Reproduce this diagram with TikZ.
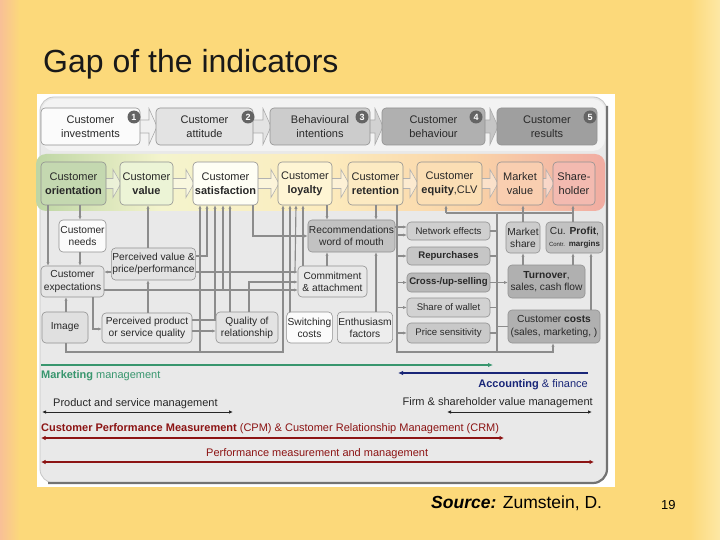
\documentclass[tikz,border=0pt]{standalone}
\usepackage{fontspec}
\setmainfont{Liberation Sans}
\usetikzlibrary{arrows.meta}
\definecolor{slidebg}{RGB}{252,217,122}
\definecolor{slideleft}{RGB}{248,192,150}
\definecolor{slideright}{RGB}{253,232,165}
\definecolor{panelbg}{RGB}{233,233,233}
\definecolor{toplight}{RGB}{243,243,243}
\definecolor{boxedge}{RGB}{145,145,145}
\definecolor{txt}{RGB}{40,40,40}
\definecolor{conncol}{RGB}{140,140,140}
\definecolor{badgecol}{RGB}{100,100,100}
\definecolor{bandg}{RGB}{190,214,165}
\definecolor{bandy}{RGB}{244,244,205}
\definecolor{bandy2}{RGB}{252,236,190}
\definecolor{bando}{RGB}{250,212,168}
\definecolor{bandr}{RGB}{241,172,162}
\definecolor{mkgreen}{RGB}{56,150,110}
\definecolor{accnavy}{RGB}{25,38,120}
\definecolor{cpmred}{RGB}{140,20,20}
\pgfdeclarehorizontalshading{bandshade}{100bp}{color(0bp)=(bandg); color(25bp)=(bandg); color(36bp)=(bandy); color(50bp)=(bandy2); color(63bp)=(bando); color(75bp)=(bandr); color(100bp)=(bandr)}
\newcommand\mychev[6]{%
  \path[#6] (#1,#3-#5) -- (#2-8,#3-#5) -- (#2-8,#3-#4) -- (#2,#3) -- (#2-8,#3+#4) -- (#2-8,#3+#5) -- (#1,#3+#5) -- cycle;}
\tikzset{
  box/.style={draw=boxedge, line width=0.6pt, rounded corners=4pt, align=center, inner sep=1pt, text=txt},
  topbox/.style={box, minimum height=37pt, font=\fontsize{11}{13.5}\selectfont},
  midbox/.style={box, minimum height=43pt, font=\fontsize{11}{14}\selectfont},
  lowbox/.style={box, font=\fontsize{10.2}{12.2}\selectfont},
  rbox/.style={box, font=\fontsize{9.6}{11}\selectfont, minimum width=83pt},
  conn/.style={draw=conncol, line width=1.15pt},
  arr/.style={conn, -{Latex[length=3.5pt,width=3.2pt]}},
  badge/.style={circle, fill=badgecol, text=white, font=\bfseries\fontsize{9}{9}\selectfont, inner sep=0pt, minimum size=13pt},
  chevtop/.style={draw=gray!65, line width=0.6pt},
  chevmid/.style={draw=gray!60, line width=0.6pt, fill=white, fill opacity=0.4},
  lbl/.style={font=\fontsize{11}{13}\selectfont, inner sep=0pt},
}
\begin{document}
\begin{tikzpicture}[x=1pt,y=-1pt]
\useasboundingbox (0,0) rectangle (720,540);
% slide background
\fill[slidebg] (0,0) rectangle (720,540);
\shade[left color=slideleft, right color=slidebg] (0,0) rectangle (20,540);
\shade[left color=slidebg, right color=slideright] (690,0) rectangle (720,540);
\node[anchor=base west, font=\fontsize{32}{38}\selectfont, text=black!90, inner sep=0pt] (title) at (43,73) {Gap of the indicators};
% diagram frame
\fill[white] (37,94) rectangle (615,487);
\draw[fill=panelbg, draw=gray!45, line width=0.8pt, rounded corners=14pt] (40,97) rectangle (607,483);
\draw[draw=gray!90!black, line width=2.2pt, rounded corners=14pt] (607,106) -- (607,483) -- (48,483);
\fill[toplight, rounded corners=12pt] (42,99) rectangle (605,151);
\shade[shading=bandshade, rounded corners=10pt] (36,154) rectangle (605,211);
% chevrons top row
\mychev{138}{157}{126.5}{18}{6.5}{chevtop, fill=gray!12}
\mychev{251}{271}{126.5}{18}{6.5}{chevtop, fill=gray!22}
\mychev{368}{383}{126.5}{18}{6.5}{chevtop, fill=gray!35}
\mychev{483}{498}{126.5}{18}{6.5}{chevtop, fill=gray!45}
% chevrons second row
\mychev{104}{121}{183.5}{14}{5}{chevmid}
\mychev{171}{194}{183.5}{14}{5}{chevmid}
\mychev{256}{279}{183.5}{14}{5}{chevmid}
\mychev{330}{349}{183.5}{14}{5}{chevmid}
\mychev{401}{418}{183.5}{14}{5}{chevmid}
\mychev{480}{498}{183.5}{14}{5}{chevmid}
\mychev{541}{554}{183.5}{14}{5}{chevmid}
% top row
\node[topbox, minimum width=99pt, fill=white!97!gray] (inv) at (90.5,126.5) {Customer\\investments};
\node[topbox, minimum width=97pt, fill=gray!22] (att) at (204.5,126.5) {Customer\\attitude};
\node[topbox, minimum width=100pt, fill=gray!40] (beh) at (320,126.5) {Behavioural\\intentions};
\node[topbox, minimum width=103pt, fill=gray!62] (bhv) at (433.5,126.5) {Customer\\behaviour};
\node[topbox, minimum width=100pt, fill=gray!75] (res) at (547,126.5) {Customer\\results};
\node[badge] (b1) at (134,117) {1};
\node[badge] (b2) at (248,117) {2};
\node[badge] (b3) at (362,117) {3};
\node[badge] (b4) at (476,117) {4};
\node[badge] (b5) at (590,117) {5};
% second row
\node[midbox, minimum width=65pt, fill={rgb,255:red,196;green,216;blue,176}] (ori) at (73.5,183.5) {Customer\\\textbf{orientation}};
\node[midbox, minimum width=53pt, fill={rgb,255:red,236;green,244;blue,214}] (val) at (146.5,183.5) {Customer\\\textbf{value}};
\node[midbox, minimum width=65pt, fill={rgb,255:red,254;green,254;blue,244}] (sat) at (225.5,183.5) {Customer\\\textbf{satisfaction}};
\node[midbox, minimum width=54pt, fill={rgb,255:red,254;green,245;blue,212}] (loy) at (305,183.5) {Customer\\\textbf{loyalty}};
\node[midbox, minimum width=55pt, fill={rgb,255:red,252;green,234;blue,194}] (ret) at (375.5,183.5) {Customer\\\textbf{retention}};
\node[midbox, minimum width=65pt, fill={rgb,255:red,251;green,222;blue,180}] (equ) at (449.5,183.5) {Customer\\\textbf{equity},CLV};
\node[midbox, minimum width=46pt, fill={rgb,255:red,249;green,206;blue,176}] (mkv) at (520,183.5) {Market\\value};
\node[midbox, minimum width=42pt, fill={rgb,255:red,243;green,186;blue,176}] (shh) at (574,183.5) {Share-\\holder};
% lower boxes
\node[lowbox, minimum width=47pt, minimum height=32pt, fill=white!97!gray] (needs) at (82.5,236) {Customer\\needs};
\node[lowbox, minimum width=83pt, minimum height=32pt, fill=gray!22] (pv) at (153.5,264) {Perceived value \&\\price/performance};
\node[lowbox, minimum width=63pt, minimum height=31pt, fill=gray!20] (exp) at (72.5,281.5) {Customer\\expectations};
\node[lowbox, minimum width=46pt, minimum height=31pt, fill=gray!24] (img) at (65,327.5) {Image};
\node[lowbox, minimum width=90pt, minimum height=30pt, fill=gray!18] (pq) at (147,328) {Perceived product\\or service quality};
\node[lowbox, minimum width=62pt, minimum height=31pt, fill=gray!22] (qr) at (247,327.5) {Quality of\\relationship};
\node[lowbox, minimum width=45pt, minimum height=31pt, fill=white!97!gray] (sw) at (309.5,327.5) {Switching\\costs};
\node[lowbox, minimum width=54pt, minimum height=31pt, fill=gray!14] (en) at (365,327.5) {Enthusiasm\\factors};
\node[lowbox, minimum width=85pt, minimum height=32pt, fill=gray!48] (rec) at (351.5,236) {Recommendations\\word of mouth};
\node[lowbox, minimum width=69pt, minimum height=31pt, fill=gray!18] (com) at (332.5,281.5) {Commitment\\\& attachment};
\node[rbox, minimum height=18pt, fill=gray!38] (net) at (448.5,231) {Network effects};
\node[rbox, minimum height=18pt, fill=gray!45] (rep) at (448.5,256) {\textbf{Repurchases}};
\node[rbox, minimum height=19pt, fill=gray!55] (cro) at (448.5,282.5) {\textbf{Cross-/up-selling}};
\node[rbox, minimum height=19pt, fill=gray!35] (sha) at (448.5,307.5) {Share of wallet};
\node[rbox, minimum height=20pt, fill=gray!42] (pri) at (448.5,333) {Price sensitivity};
\node[lowbox, minimum width=34pt, minimum height=31pt, fill=gray!40] (msh) at (523,237.5) {Market\\share};
\node[lowbox, minimum width=57pt, minimum height=31pt, fill=gray!48] (cup) at (574.5,237.5) {Cu. \textbf{Profit},\\{\fontsize{6}{8}\selectfont Contr.} {\fontsize{8}{9}\selectfont\textbf{margins}}};
\node[lowbox, minimum width=77pt, minimum height=33pt, fill=gray!62] (tur) at (546.5,281.5) {\textbf{Turnover},\\sales, cash flow};
\node[lowbox, minimum width=92pt, minimum height=33pt, fill=gray!62] (cco) at (554,326.5) {Customer \textbf{costs}\\(sales, marketing, )};
% connectors left part
\draw[arr] (48,0 |- ori.south) -- (48,0 |- exp.north);
\draw[arr] (80,0 |- ori.south) -- (80,0 |- needs.north);
\draw[arr] (80,0 |- needs.south) -- (80,0 |- exp.north);
\draw[arr] (pv.west |- 0,272) -- (exp.east |- 0,272);
\draw[arr] (148,0 |- pv.north) -- (148,0 |- val.south);
\draw[arr] (148,0 |- pq.north) -- (148,0 |- pv.south);
\draw[arr] (66,0 |- img.north) -- (66,0 |- exp.south);
\draw[arr] (93,0 |- exp.south) -- (93,329) -- (pq.west |- 0,329);
\draw[arr] (exp.east |- 0,290) -- (com.west |- 0,290);
\coordinate (j1) at (223,290);
\draw[arr] (j1) -- (223,0 |- sat.south);
\draw[arr] (pv.east |- 0,272) -- (com.west |- 0,272);
\coordinate (j2) at (295,272);
\draw[arr] (j2) -- (296,0 |- loy.south);
\draw[arr] (pv.east |- 0,256) -- (207,256) -- (207,0 |- sat.south);
\draw[arr] (pq.east |- 0,320) -- (215,320) -- (215,0 |- sat.south);
\draw[arr] (pq.east |- 0,331) -- (qr.west |- 0,331);
\draw[arr] (230,0 |- qr.north) -- (230,0 |- sat.south);
\draw[arr] (249,0 |- qr.north) -- (249,282) -- (com.west |- 0,282);
\draw[arr] (66,0 |- img.south) -- (66,352) -- (283,352) -- (283,0 |- loy.south);
\coordinate (j3) at (200,352);
\draw[arr] (j3) -- (200,0 |- sat.south);
\draw[arr] (290,0 |- sw.north) -- (290,0 |- loy.south);
\draw[arr] (303,0 |- com.north) -- (303,0 |- loy.south);
\draw[arr] (253,0 |- sat.south) -- (253,236) -- (rec.west |- 0,236);
\draw[arr] (327,0 |- loy.south) -- (327,0 |- rec.north);
\draw[arr] (376,0 |- ret.south) -- (376,0 |- rec.north);
\draw[arr] (327,0 |- com.north) -- (327,0 |- rec.south);
\draw[arr] (376,0 |- en.north) -- (376,0 |- rec.south);
\draw[arr] (rec.east |- 0,227) -- (net.west |- 0,227);
% retention bus
\draw[arr] (397,0 |- ret.south) -- (397,352) -- (553,352) -- (553,0 |- cco.south);
\draw[arr] (397,0 |- 0,235) -- (net.west |- 0,235);
\draw[arr] (397,0 |- rep.west) -- (rep.west);
\draw[arr] (397,0 |- cro.west) -- (cro.west);
\draw[arr] (397,0 |- sha.west) -- (sha.west);
\draw[arr] (397,0 |- pri.west) -- (pri.west);
% right bus
\draw[conn] (497,352) -- (497,213);
\draw[conn] (446,213) -- (573,213);
\draw[conn] (net.east) -- (497,0 |- net.east);
\draw[conn] (rep.east) -- (497,0 |- rep.east);
\draw[conn] (sha.east) -- (497,0 |- sha.east);
\draw[conn] (pri.east) -- (497,0 |- pri.east);
\draw[conn] (cco.west) -- (497,0 |- cco.west);
\draw[arr] (cro.east) -- (tur.west |- cro.east);
\coordinate (jeq) at (446,213);
\draw[arr] (jeq) -- (446,0 |- equ.south);
\draw[arr] (523,0 |- msh.north) -- (523,0 |- mkv.south);
\draw[arr] (573,0 |- cup.north) -- (573,0 |- shh.south);
\draw[arr] (523,0 |- tur.north) -- (523,0 |- msh.south);
\draw[arr] (573,0 |- tur.north) -- (573,0 |- cup.south);
\draw[arr] (591,0 |- cco.north) -- (591,0 |- cup.south);
% management arrows
\coordinate (mkL) at (41,365); \coordinate (mkR) at (493,365);
\draw[draw=mkgreen, line width=1.6pt, -{Latex[length=5pt,width=4.5pt]}] (mkL) -- (mkR);
\node[lbl, anchor=base west, text=mkgreen] (mktxt) at (41,378) {\textbf{Marketing} management};
\coordinate (acR) at (588,373); \coordinate (acL) at (398,373);
\draw[draw=accnavy, line width=1.6pt, -{Latex[length=5pt,width=4.5pt]}] (acR) -- (acL);
\node[lbl, anchor=base east, text=accnavy] (actxt) at (588,387) {\textbf{Accounting} \& finance};
\node[lbl, anchor=base west, text=black!85] (pstxt) at (53,406) {Product and service management};
\coordinate (psL) at (42,412); \coordinate (psR) at (233,412);
\draw[draw=black!85, line width=0.9pt, {Latex[length=4pt,width=3.5pt]}-{Latex[length=4pt,width=3.5pt]}] (psL) -- (psR);
\node[lbl, anchor=base east, text=black!85] (fstxt) at (593,405) {Firm \& shareholder value management};
\coordinate (fsL) at (447,412); \coordinate (fsR) at (592,412);
\draw[draw=black!85, line width=0.9pt, {Latex[length=4pt,width=3.5pt]}-{Latex[length=4pt,width=3.5pt]}] (fsL) -- (fsR);
\node[lbl, anchor=base west, text=cpmred] (cpmtxt) at (41,431) {\textbf{Customer Performance Measurement} (CPM) \& Customer Relationship Management (CRM)};
\coordinate (cpL) at (41,438); \coordinate (cpR) at (504,438);
\draw[draw=cpmred, line width=1.8pt, {Latex[length=4.5pt,width=4.5pt]}-{Latex[length=4.5pt,width=4.5pt]}] (cpL) -- (cpR);
\node[lbl, anchor=base west, text=cpmred] (pmtxt) at (206,456) {Performance measurement and management};
\coordinate (pmL) at (41,462); \coordinate (pmR) at (594,462);
\draw[draw=cpmred, line width=1.8pt, {Latex[length=4.5pt,width=4.5pt]}-{Latex[length=4.5pt,width=4.5pt]}] (pmL) -- (pmR);
% footer
\node[anchor=base west, font=\fontsize{17.5}{20}\selectfont, inner sep=0pt] (src) at (431,508) {\textbf{\textit{Source:}} Zumstein, D.};
\node[anchor=base west, font=\fontsize{13}{15}\selectfont, inner sep=0pt] (pg) at (661,509) {19};
\end{tikzpicture}
\end{document}
